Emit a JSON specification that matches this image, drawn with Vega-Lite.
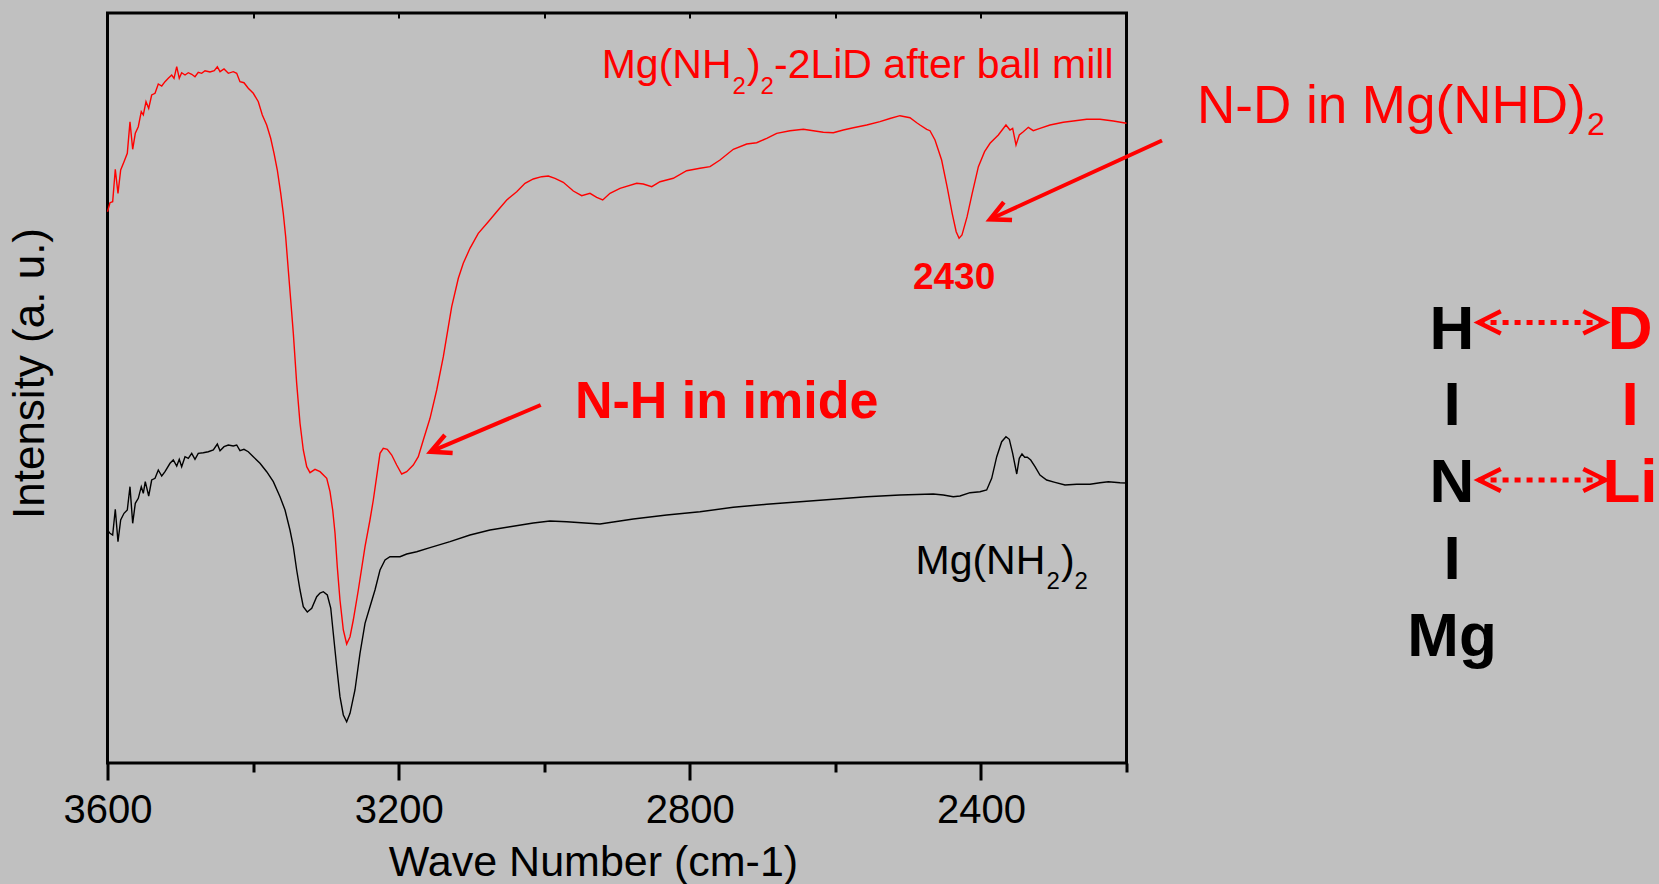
{
  "$schema": "https://vega.github.io/schema/vega-lite/v6.json",
  "width": 1019,
  "height": 750,
  "autosize": {"type": "none"},
  "padding": {"left": 107.5, "top": 13, "right": 532.5, "bottom": 121},
  "background": "#c0c0c0",
  "config": {
    "font": "Liberation Sans",
    "view": {"stroke": "#000000", "strokeWidth": 3},
    "axis": {"grid": false, "domain": false}
  },
  "datasets": {
    "spectra": [
      {"sample":"Mg(NH2)2-2LiD","wavenumber":3600,"intensity":551.3},{"sample":"Mg(NH2)2-2LiD","wavenumber":3596.6,"intensity":560.3},{"sample":"Mg(NH2)2-2LiD","wavenumber":3592.9,"intensity":561.3},{"sample":"Mg(NH2)2-2LiD","wavenumber":3589.3,"intensity":593.7},{"sample":"Mg(NH2)2-2LiD","wavenumber":3585.6,"intensity":569.7},{"sample":"Mg(NH2)2-2LiD","wavenumber":3581.9,"intensity":593},{"sample":"Mg(NH2)2-2LiD","wavenumber":3577.3,"intensity":601.3},{"sample":"Mg(NH2)2-2LiD","wavenumber":3572.8,"intensity":609.7},{"sample":"Mg(NH2)2-2LiD","wavenumber":3569.1,"intensity":641.3},{"sample":"Mg(NH2)2-2LiD","wavenumber":3565.4,"intensity":613.7},{"sample":"Mg(NH2)2-2LiD","wavenumber":3561.8,"intensity":629.7},{"sample":"Mg(NH2)2-2LiD","wavenumber":3557.7,"intensity":636.3},{"sample":"Mg(NH2)2-2LiD","wavenumber":3553.6,"intensity":651.3},{"sample":"Mg(NH2)2-2LiD","wavenumber":3550.8,"intensity":648},{"sample":"Mg(NH2)2-2LiD","wavenumber":3547.1,"intensity":661.3},{"sample":"Mg(NH2)2-2LiD","wavenumber":3543.4,"intensity":654.7},{"sample":"Mg(NH2)2-2LiD","wavenumber":3539.3,"intensity":668},{"sample":"Mg(NH2)2-2LiD","wavenumber":3534.7,"intensity":669.7},{"sample":"Mg(NH2)2-2LiD","wavenumber":3530.2,"intensity":679},{"sample":"Mg(NH2)2-2LiD","wavenumber":3525.5,"intensity":677},{"sample":"Mg(NH2)2-2LiD","wavenumber":3521,"intensity":681.3},{"sample":"Mg(NH2)2-2LiD","wavenumber":3516.5,"intensity":684.7},{"sample":"Mg(NH2)2-2LiD","wavenumber":3511.8,"intensity":688},{"sample":"Mg(NH2)2-2LiD","wavenumber":3508.6,"intensity":684.7},{"sample":"Mg(NH2)2-2LiD","wavenumber":3504.9,"intensity":696.3},{"sample":"Mg(NH2)2-2LiD","wavenumber":3501.4,"intensity":684.7},{"sample":"Mg(NH2)2-2LiD","wavenumber":3498.1,"intensity":690.3},{"sample":"Mg(NH2)2-2LiD","wavenumber":3493.5,"intensity":688},{"sample":"Mg(NH2)2-2LiD","wavenumber":3489,"intensity":690.3},{"sample":"Mg(NH2)2-2LiD","wavenumber":3484.3,"intensity":688.7},{"sample":"Mg(NH2)2-2LiD","wavenumber":3479.8,"intensity":686.3},{"sample":"Mg(NH2)2-2LiD","wavenumber":3475.3,"intensity":690.7},{"sample":"Mg(NH2)2-2LiD","wavenumber":3470.6,"intensity":689.7},{"sample":"Mg(NH2)2-2LiD","wavenumber":3466,"intensity":692.3},{"sample":"Mg(NH2)2-2LiD","wavenumber":3459.2,"intensity":691},{"sample":"Mg(NH2)2-2LiD","wavenumber":3453.3,"intensity":692.3},{"sample":"Mg(NH2)2-2LiD","wavenumber":3449.1,"intensity":696.3},{"sample":"Mg(NH2)2-2LiD","wavenumber":3445.4,"intensity":691.3},{"sample":"Mg(NH2)2-2LiD","wavenumber":3439.9,"intensity":694},{"sample":"Mg(NH2)2-2LiD","wavenumber":3434,"intensity":689.7},{"sample":"Mg(NH2)2-2LiD","wavenumber":3427.2,"intensity":691.3},{"sample":"Mg(NH2)2-2LiD","wavenumber":3422.5,"intensity":689.7},{"sample":"Mg(NH2)2-2LiD","wavenumber":3418,"intensity":681.3},{"sample":"Mg(NH2)2-2LiD","wavenumber":3412.5,"intensity":680.3},{"sample":"Mg(NH2)2-2LiD","wavenumber":3406.6,"intensity":674.7},{"sample":"Mg(NH2)2-2LiD","wavenumber":3399.7,"intensity":669.7},{"sample":"Mg(NH2)2-2LiD","wavenumber":3392.8,"intensity":661.3},{"sample":"Mg(NH2)2-2LiD","wavenumber":3387.3,"intensity":648},{"sample":"Mg(NH2)2-2LiD","wavenumber":3381.3,"intensity":638},{"sample":"Mg(NH2)2-2LiD","wavenumber":3375.8,"intensity":624.7},{"sample":"Mg(NH2)2-2LiD","wavenumber":3371.2,"intensity":609.7},{"sample":"Mg(NH2)2-2LiD","wavenumber":3366.7,"intensity":593},{"sample":"Mg(NH2)2-2LiD","wavenumber":3362,"intensity":569.7},{"sample":"Mg(NH2)2-2LiD","wavenumber":3358.5,"intensity":549.7},{"sample":"Mg(NH2)2-2LiD","wavenumber":3355.2,"intensity":526.3},{"sample":"Mg(NH2)2-2LiD","wavenumber":3351.6,"intensity":493},{"sample":"Mg(NH2)2-2LiD","wavenumber":3348.3,"intensity":463},{"sample":"Mg(NH2)2-2LiD","wavenumber":3344.7,"intensity":429.7},{"sample":"Mg(NH2)2-2LiD","wavenumber":3340.1,"intensity":379.7},{"sample":"Mg(NH2)2-2LiD","wavenumber":3335.5,"intensity":339.7},{"sample":"Mg(NH2)2-2LiD","wavenumber":3331,"intensity":313},{"sample":"Mg(NH2)2-2LiD","wavenumber":3326.3,"intensity":296.3},{"sample":"Mg(NH2)2-2LiD","wavenumber":3321.8,"intensity":290.3},{"sample":"Mg(NH2)2-2LiD","wavenumber":3314.9,"intensity":293.7},{"sample":"Mg(NH2)2-2LiD","wavenumber":3308,"intensity":291.3},{"sample":"Mg(NH2)2-2LiD","wavenumber":3298.8,"intensity":284.7},{"sample":"Mg(NH2)2-2LiD","wavenumber":3294.3,"intensity":271.3},{"sample":"Mg(NH2)2-2LiD","wavenumber":3290.6,"intensity":253},{"sample":"Mg(NH2)2-2LiD","wavenumber":3287.4,"intensity":229.7},{"sample":"Mg(NH2)2-2LiD","wavenumber":3284.3,"intensity":196.3},{"sample":"Mg(NH2)2-2LiD","wavenumber":3280.6,"intensity":163},{"sample":"Mg(NH2)2-2LiD","wavenumber":3276,"intensity":133},{"sample":"Mg(NH2)2-2LiD","wavenumber":3271.4,"intensity":119},{"sample":"Mg(NH2)2-2LiD","wavenumber":3266.8,"intensity":126.3},{"sample":"Mg(NH2)2-2LiD","wavenumber":3262.3,"intensity":143},{"sample":"Mg(NH2)2-2LiD","wavenumber":3255.4,"intensity":173},{"sample":"Mg(NH2)2-2LiD","wavenumber":3246.2,"intensity":216.3},{"sample":"Mg(NH2)2-2LiD","wavenumber":3239.4,"intensity":243},{"sample":"Mg(NH2)2-2LiD","wavenumber":3234.8,"intensity":263},{"sample":"Mg(NH2)2-2LiD","wavenumber":3230.2,"intensity":286.3},{"sample":"Mg(NH2)2-2LiD","wavenumber":3225.6,"intensity":309.7},{"sample":"Mg(NH2)2-2LiD","wavenumber":3221.1,"intensity":314.7},{"sample":"Mg(NH2)2-2LiD","wavenumber":3215.6,"intensity":313.7},{"sample":"Mg(NH2)2-2LiD","wavenumber":3209.5,"intensity":308},{"sample":"Mg(NH2)2-2LiD","wavenumber":3202.7,"intensity":298},{"sample":"Mg(NH2)2-2LiD","wavenumber":3195.8,"intensity":289},{"sample":"Mg(NH2)2-2LiD","wavenumber":3188.9,"intensity":291.3},{"sample":"Mg(NH2)2-2LiD","wavenumber":3179.9,"intensity":298},{"sample":"Mg(NH2)2-2LiD","wavenumber":3173,"intensity":306.3},{"sample":"Mg(NH2)2-2LiD","wavenumber":3166.1,"intensity":323},{"sample":"Mg(NH2)2-2LiD","wavenumber":3156.9,"intensity":344.7},{"sample":"Mg(NH2)2-2LiD","wavenumber":3147.7,"intensity":373},{"sample":"Mg(NH2)2-2LiD","wavenumber":3138.6,"intensity":406.3},{"sample":"Mg(NH2)2-2LiD","wavenumber":3129.4,"intensity":446.3},{"sample":"Mg(NH2)2-2LiD","wavenumber":3127.1,"intensity":456.3},{"sample":"Mg(NH2)2-2LiD","wavenumber":3118,"intensity":484.7},{"sample":"Mg(NH2)2-2LiD","wavenumber":3111.2,"intensity":499.7},{"sample":"Mg(NH2)2-2LiD","wavenumber":3102,"intensity":514.7},{"sample":"Mg(NH2)2-2LiD","wavenumber":3090.6,"intensity":529.7},{"sample":"Mg(NH2)2-2LiD","wavenumber":3076.8,"intensity":541.3},{"sample":"Mg(NH2)2-2LiD","wavenumber":3065.3,"intensity":551.3},{"sample":"Mg(NH2)2-2LiD","wavenumber":3051.5,"intensity":563},{"sample":"Mg(NH2)2-2LiD","wavenumber":3037.8,"intensity":571.3},{"sample":"Mg(NH2)2-2LiD","wavenumber":3026.4,"intensity":579.7},{"sample":"Mg(NH2)2-2LiD","wavenumber":3015,"intensity":584},{"sample":"Mg(NH2)2-2LiD","wavenumber":3003.5,"intensity":586.3},{"sample":"Mg(NH2)2-2LiD","wavenumber":2994.4,"intensity":587},{"sample":"Mg(NH2)2-2LiD","wavenumber":2985.2,"intensity":584.7},{"sample":"Mg(NH2)2-2LiD","wavenumber":2973.8,"intensity":580.7},{"sample":"Mg(NH2)2-2LiD","wavenumber":2960,"intensity":572},{"sample":"Mg(NH2)2-2LiD","wavenumber":2948.5,"intensity":567.3},{"sample":"Mg(NH2)2-2LiD","wavenumber":2937.1,"intensity":569.7},{"sample":"Mg(NH2)2-2LiD","wavenumber":2927.9,"intensity":565.7},{"sample":"Mg(NH2)2-2LiD","wavenumber":2919.6,"intensity":563},{"sample":"Mg(NH2)2-2LiD","wavenumber":2909.6,"intensity":569.7},{"sample":"Mg(NH2)2-2LiD","wavenumber":2895.9,"intensity":574.7},{"sample":"Mg(NH2)2-2LiD","wavenumber":2872.9,"intensity":579.7},{"sample":"Mg(NH2)2-2LiD","wavenumber":2863.9,"intensity":579},{"sample":"Mg(NH2)2-2LiD","wavenumber":2852.3,"intensity":576.3},{"sample":"Mg(NH2)2-2LiD","wavenumber":2840.9,"intensity":581.3},{"sample":"Mg(NH2)2-2LiD","wavenumber":2822.7,"intensity":584.7},{"sample":"Mg(NH2)2-2LiD","wavenumber":2804.3,"intensity":592.3},{"sample":"Mg(NH2)2-2LiD","wavenumber":2786,"intensity":594.7},{"sample":"Mg(NH2)2-2LiD","wavenumber":2772.2,"intensity":596.3},{"sample":"Mg(NH2)2-2LiD","wavenumber":2758.5,"intensity":603},{"sample":"Mg(NH2)2-2LiD","wavenumber":2740.2,"intensity":613.7},{"sample":"Mg(NH2)2-2LiD","wavenumber":2721.8,"intensity":619},{"sample":"Mg(NH2)2-2LiD","wavenumber":2708.1,"intensity":620.3},{"sample":"Mg(NH2)2-2LiD","wavenumber":2694.3,"intensity":624.7},{"sample":"Mg(NH2)2-2LiD","wavenumber":2680.6,"intensity":629.7},{"sample":"Mg(NH2)2-2LiD","wavenumber":2662.3,"intensity":632.3},{"sample":"Mg(NH2)2-2LiD","wavenumber":2644,"intensity":633.7},{"sample":"Mg(NH2)2-2LiD","wavenumber":2630.3,"intensity":632.3},{"sample":"Mg(NH2)2-2LiD","wavenumber":2616.6,"intensity":630.7},{"sample":"Mg(NH2)2-2LiD","wavenumber":2602.8,"intensity":630.3},{"sample":"Mg(NH2)2-2LiD","wavenumber":2589.1,"intensity":633},{"sample":"Mg(NH2)2-2LiD","wavenumber":2575.3,"intensity":635.3},{"sample":"Mg(NH2)2-2LiD","wavenumber":2556.9,"intensity":638},{"sample":"Mg(NH2)2-2LiD","wavenumber":2538.7,"intensity":641.3},{"sample":"Mg(NH2)2-2LiD","wavenumber":2525,"intensity":644.5},{"sample":"Mg(NH2)2-2LiD","wavenumber":2511.2,"intensity":647.3},{"sample":"Mg(NH2)2-2LiD","wavenumber":2497.5,"intensity":645.3},{"sample":"Mg(NH2)2-2LiD","wavenumber":2488.2,"intensity":640.3},{"sample":"Mg(NH2)2-2LiD","wavenumber":2483.7,"intensity":638},{"sample":"Mg(NH2)2-2LiD","wavenumber":2474.5,"intensity":633.7},{"sample":"Mg(NH2)2-2LiD","wavenumber":2470,"intensity":632.3},{"sample":"Mg(NH2)2-2LiD","wavenumber":2463.1,"intensity":623},{"sample":"Mg(NH2)2-2LiD","wavenumber":2454,"intensity":603},{"sample":"Mg(NH2)2-2LiD","wavenumber":2446.5,"intensity":576.3},{"sample":"Mg(NH2)2-2LiD","wavenumber":2439.5,"intensity":549.7},{"sample":"Mg(NH2)2-2LiD","wavenumber":2434,"intensity":531.3},{"sample":"Mg(NH2)2-2LiD","wavenumber":2430,"intensity":524.7},{"sample":"Mg(NH2)2-2LiD","wavenumber":2426,"intensity":528},{"sample":"Mg(NH2)2-2LiD","wavenumber":2419,"intensity":546.3},{"sample":"Mg(NH2)2-2LiD","wavenumber":2412,"intensity":569.7},{"sample":"Mg(NH2)2-2LiD","wavenumber":2403.5,"intensity":596.3},{"sample":"Mg(NH2)2-2LiD","wavenumber":2395,"intensity":611.3},{"sample":"Mg(NH2)2-2LiD","wavenumber":2387.5,"intensity":619.7},{"sample":"Mg(NH2)2-2LiD","wavenumber":2376.1,"intensity":628},{"sample":"Mg(NH2)2-2LiD","wavenumber":2365.6,"intensity":638},{"sample":"Mg(NH2)2-2LiD","wavenumber":2360.1,"intensity":633},{"sample":"Mg(NH2)2-2LiD","wavenumber":2356.4,"intensity":634.7},{"sample":"Mg(NH2)2-2LiD","wavenumber":2351.8,"intensity":618},{"sample":"Mg(NH2)2-2LiD","wavenumber":2347.3,"intensity":628},{"sample":"Mg(NH2)2-2LiD","wavenumber":2341.8,"intensity":631.3},{"sample":"Mg(NH2)2-2LiD","wavenumber":2334.9,"intensity":635.7},{"sample":"Mg(NH2)2-2LiD","wavenumber":2328.1,"intensity":632.3},{"sample":"Mg(NH2)2-2LiD","wavenumber":2318.9,"intensity":634.7},{"sample":"Mg(NH2)2-2LiD","wavenumber":2305.1,"intensity":638},{"sample":"Mg(NH2)2-2LiD","wavenumber":2286.8,"intensity":640.7},{"sample":"Mg(NH2)2-2LiD","wavenumber":2273.1,"intensity":642},{"sample":"Mg(NH2)2-2LiD","wavenumber":2254.7,"intensity":643.7},{"sample":"Mg(NH2)2-2LiD","wavenumber":2236.4,"intensity":643.7},{"sample":"Mg(NH2)2-2LiD","wavenumber":2218.1,"intensity":642},{"sample":"Mg(NH2)2-2LiD","wavenumber":2200,"intensity":639.7},
      {"sample":"Mg(NH2)2","wavenumber":3600,"intensity":233},{"sample":"Mg(NH2)2","wavenumber":3596.6,"intensity":229.7},{"sample":"Mg(NH2)2","wavenumber":3592.9,"intensity":228},{"sample":"Mg(NH2)2","wavenumber":3589.3,"intensity":253.7},{"sample":"Mg(NH2)2","wavenumber":3585.6,"intensity":221.3},{"sample":"Mg(NH2)2","wavenumber":3581.9,"intensity":243},{"sample":"Mg(NH2)2","wavenumber":3577.3,"intensity":249.7},{"sample":"Mg(NH2)2","wavenumber":3572.8,"intensity":253},{"sample":"Mg(NH2)2","wavenumber":3569.1,"intensity":276.3},{"sample":"Mg(NH2)2","wavenumber":3565.4,"intensity":239.7},{"sample":"Mg(NH2)2","wavenumber":3561.8,"intensity":259.7},{"sample":"Mg(NH2)2","wavenumber":3557.7,"intensity":264.7},{"sample":"Mg(NH2)2","wavenumber":3553.6,"intensity":276.3},{"sample":"Mg(NH2)2","wavenumber":3550.8,"intensity":269.7},{"sample":"Mg(NH2)2","wavenumber":3548.1,"intensity":281.3},{"sample":"Mg(NH2)2","wavenumber":3543.4,"intensity":267},{"sample":"Mg(NH2)2","wavenumber":3539.3,"intensity":283},{"sample":"Mg(NH2)2","wavenumber":3534.7,"intensity":284.7},{"sample":"Mg(NH2)2","wavenumber":3530.2,"intensity":293},{"sample":"Mg(NH2)2","wavenumber":3525.5,"intensity":287},{"sample":"Mg(NH2)2","wavenumber":3521,"intensity":291.3},{"sample":"Mg(NH2)2","wavenumber":3514.1,"intensity":299.7},{"sample":"Mg(NH2)2","wavenumber":3509.6,"intensity":303},{"sample":"Mg(NH2)2","wavenumber":3504.9,"intensity":297},{"sample":"Mg(NH2)2","wavenumber":3501.4,"intensity":303.7},{"sample":"Mg(NH2)2","wavenumber":3498.1,"intensity":296.3},{"sample":"Mg(NH2)2","wavenumber":3493.5,"intensity":306.3},{"sample":"Mg(NH2)2","wavenumber":3489,"intensity":304.7},{"sample":"Mg(NH2)2","wavenumber":3484.3,"intensity":309.7},{"sample":"Mg(NH2)2","wavenumber":3479.8,"intensity":303.7},{"sample":"Mg(NH2)2","wavenumber":3475.3,"intensity":309.7},{"sample":"Mg(NH2)2","wavenumber":3468.4,"intensity":310.3},{"sample":"Mg(NH2)2","wavenumber":3461.5,"intensity":311.3},{"sample":"Mg(NH2)2","wavenumber":3454.6,"intensity":313},{"sample":"Mg(NH2)2","wavenumber":3449.1,"intensity":319},{"sample":"Mg(NH2)2","wavenumber":3445.4,"intensity":312.3},{"sample":"Mg(NH2)2","wavenumber":3439.9,"intensity":316.3},{"sample":"Mg(NH2)2","wavenumber":3434,"intensity":318},{"sample":"Mg(NH2)2","wavenumber":3427.2,"intensity":317},{"sample":"Mg(NH2)2","wavenumber":3422.5,"intensity":318},{"sample":"Mg(NH2)2","wavenumber":3418,"intensity":312.3},{"sample":"Mg(NH2)2","wavenumber":3412.5,"intensity":313.7},{"sample":"Mg(NH2)2","wavenumber":3406.6,"intensity":311.3},{"sample":"Mg(NH2)2","wavenumber":3399.7,"intensity":306.3},{"sample":"Mg(NH2)2","wavenumber":3390.5,"intensity":299.7},{"sample":"Mg(NH2)2","wavenumber":3381.3,"intensity":291.3},{"sample":"Mg(NH2)2","wavenumber":3372.2,"intensity":281.3},{"sample":"Mg(NH2)2","wavenumber":3363,"intensity":266.3},{"sample":"Mg(NH2)2","wavenumber":3356.1,"intensity":253},{"sample":"Mg(NH2)2","wavenumber":3349.3,"intensity":233},{"sample":"Mg(NH2)2","wavenumber":3344.7,"intensity":216.3},{"sample":"Mg(NH2)2","wavenumber":3340.1,"intensity":193},{"sample":"Mg(NH2)2","wavenumber":3335.5,"intensity":173},{"sample":"Mg(NH2)2","wavenumber":3331,"intensity":156.3},{"sample":"Mg(NH2)2","wavenumber":3325.5,"intensity":151},{"sample":"Mg(NH2)2","wavenumber":3319.4,"intensity":154.7},{"sample":"Mg(NH2)2","wavenumber":3312.6,"intensity":166.3},{"sample":"Mg(NH2)2","wavenumber":3308,"intensity":170},{"sample":"Mg(NH2)2","wavenumber":3303.5,"intensity":171.3},{"sample":"Mg(NH2)2","wavenumber":3298,"intensity":168},{"sample":"Mg(NH2)2","wavenumber":3293.3,"intensity":155},{"sample":"Mg(NH2)2","wavenumber":3289.8,"intensity":129.7},{"sample":"Mg(NH2)2","wavenumber":3285.1,"intensity":96.3},{"sample":"Mg(NH2)2","wavenumber":3280.6,"intensity":66.3},{"sample":"Mg(NH2)2","wavenumber":3276,"intensity":48},{"sample":"Mg(NH2)2","wavenumber":3271.4,"intensity":41.3},{"sample":"Mg(NH2)2","wavenumber":3266.8,"intensity":49.7},{"sample":"Mg(NH2)2","wavenumber":3260,"intensity":73},{"sample":"Mg(NH2)2","wavenumber":3253.1,"intensity":109.7},{"sample":"Mg(NH2)2","wavenumber":3246.2,"intensity":139.7},{"sample":"Mg(NH2)2","wavenumber":3239.4,"intensity":156.3},{"sample":"Mg(NH2)2","wavenumber":3232.5,"intensity":173},{"sample":"Mg(NH2)2","wavenumber":3225.6,"intensity":193},{"sample":"Mg(NH2)2","wavenumber":3218.7,"intensity":203},{"sample":"Mg(NH2)2","wavenumber":3211.9,"intensity":206.3},{"sample":"Mg(NH2)2","wavenumber":3198.1,"intensity":206.3},{"sample":"Mg(NH2)2","wavenumber":3188.9,"intensity":209},{"sample":"Mg(NH2)2","wavenumber":3175.2,"intensity":211.3},{"sample":"Mg(NH2)2","wavenumber":3156.9,"intensity":215.3},{"sample":"Mg(NH2)2","wavenumber":3129.4,"intensity":221.3},{"sample":"Mg(NH2)2","wavenumber":3102,"intensity":228},{"sample":"Mg(NH2)2","wavenumber":3074.5,"intensity":233},{"sample":"Mg(NH2)2","wavenumber":3047,"intensity":236.3},{"sample":"Mg(NH2)2","wavenumber":3015,"intensity":240},{"sample":"Mg(NH2)2","wavenumber":2992.1,"intensity":242},{"sample":"Mg(NH2)2","wavenumber":2969.1,"intensity":241.3},{"sample":"Mg(NH2)2","wavenumber":2944,"intensity":240},{"sample":"Mg(NH2)2","wavenumber":2923.4,"intensity":239},{"sample":"Mg(NH2)2","wavenumber":2877.6,"intensity":244},{"sample":"Mg(NH2)2","wavenumber":2831.7,"intensity":248},{"sample":"Mg(NH2)2","wavenumber":2786,"intensity":251.3},{"sample":"Mg(NH2)2","wavenumber":2740.2,"intensity":255.7},{"sample":"Mg(NH2)2","wavenumber":2694.3,"intensity":258.7},{"sample":"Mg(NH2)2","wavenumber":2648.6,"intensity":261.3},{"sample":"Mg(NH2)2","wavenumber":2602.8,"intensity":263.7},{"sample":"Mg(NH2)2","wavenumber":2556.9,"intensity":266.3},{"sample":"Mg(NH2)2","wavenumber":2511.2,"intensity":268},{"sample":"Mg(NH2)2","wavenumber":2465.5,"intensity":269},{"sample":"Mg(NH2)2","wavenumber":2451.7,"intensity":268},{"sample":"Mg(NH2)2","wavenumber":2438,"intensity":266.3},{"sample":"Mg(NH2)2","wavenumber":2428.8,"intensity":267},{"sample":"Mg(NH2)2","wavenumber":2415,"intensity":270.3},{"sample":"Mg(NH2)2","wavenumber":2401.3,"intensity":271.3},{"sample":"Mg(NH2)2","wavenumber":2392.1,"intensity":273},{"sample":"Mg(NH2)2","wavenumber":2385.2,"intensity":284.7},{"sample":"Mg(NH2)2","wavenumber":2378.3,"intensity":306.3},{"sample":"Mg(NH2)2","wavenumber":2371.5,"intensity":321.3},{"sample":"Mg(NH2)2","wavenumber":2365.6,"intensity":326.3},{"sample":"Mg(NH2)2","wavenumber":2361,"intensity":323.7},{"sample":"Mg(NH2)2","wavenumber":2356.4,"intensity":309.7},{"sample":"Mg(NH2)2","wavenumber":2350.8,"intensity":289},{"sample":"Mg(NH2)2","wavenumber":2347.3,"intensity":304.7},{"sample":"Mg(NH2)2","wavenumber":2343.6,"intensity":309},{"sample":"Mg(NH2)2","wavenumber":2339.8,"intensity":305.7},{"sample":"Mg(NH2)2","wavenumber":2336.3,"intensity":305.7},{"sample":"Mg(NH2)2","wavenumber":2331.6,"intensity":303},{"sample":"Mg(NH2)2","wavenumber":2325.7,"intensity":296.3},{"sample":"Mg(NH2)2","wavenumber":2318.9,"intensity":288},{"sample":"Mg(NH2)2","wavenumber":2309.7,"intensity":283},{"sample":"Mg(NH2)2","wavenumber":2298.3,"intensity":280.7},{"sample":"Mg(NH2)2","wavenumber":2284.5,"intensity":278},{"sample":"Mg(NH2)2","wavenumber":2268.4,"intensity":278.7},{"sample":"Mg(NH2)2","wavenumber":2250.1,"intensity":278.7},{"sample":"Mg(NH2)2","wavenumber":2236.4,"intensity":280.3},{"sample":"Mg(NH2)2","wavenumber":2225,"intensity":281.3},{"sample":"Mg(NH2)2","wavenumber":2208.9,"intensity":280.3},{"sample":"Mg(NH2)2","wavenumber":2200,"intensity":280}
    ],
    "arrows": [
      {"kind":"pointer","name":"imide","wavenumber":3004.8,"intensity":358,"wavenumber2":3156,"intensity2":311.3},
      {"kind":"pointer","name":"deuteride","wavenumber":2151.2,"intensity":622.5,"wavenumber2":2387.5,"intensity2":543.7},
      {"kind":"exchange","name":"H-D","wavenumber":1716.3,"intensity":440.6,"wavenumber2":1541.9,"intensity2":440.6},
      {"kind":"exchange","name":"N-Li","wavenumber":1716.3,"intensity":283,"wavenumber2":1541.9,"intensity2":283}
    ],
    "labels": [
      {"kind":"legend","sample":"Mg(NH2)2-2LiD","text":"Mg(NH","wavenumber":2921,"intensity":684.7},
      {"kind":"legend-sub","sample":"Mg(NH2)2-2LiD","text":"2","wavenumber":2741.3,"intensity":668.7},
      {"kind":"legend","sample":"Mg(NH2)2-2LiD","text":")","wavenumber":2721.4,"intensity":684.7},
      {"kind":"legend-sub","sample":"Mg(NH2)2-2LiD","text":"2","wavenumber":2702.9,"intensity":668.7},
      {"kind":"legend","sample":"Mg(NH2)2-2LiD","text":"-2LiD after ball mill","wavenumber":2684.3,"intensity":684.7},
      {"kind":"legend","sample":"Mg(NH2)2","text":"Mg(NH","wavenumber":2489.9,"intensity":189},
      {"kind":"legend-sub","sample":"Mg(NH2)2","text":"2","wavenumber":2309.9,"intensity":174},
      {"kind":"legend","sample":"Mg(NH2)2","text":")","wavenumber":2290,"intensity":189},
      {"kind":"legend-sub","sample":"Mg(NH2)2","text":"2","wavenumber":2271.5,"intensity":174},
      {"kind":"assignment","sample":"Mg(NH2)2-2LiD","text":"N-D in Mg(NHD)","wavenumber":2103.2,"intensity":640.4},
      {"kind":"assignment-sub","sample":"Mg(NH2)2-2LiD","text":"2","wavenumber":1567.3,"intensity":628},
      {"kind":"highlight","sample":"Mg(NH2)2-2LiD","text":"N-H in imide","wavenumber":2957.7,"intensity":344.7},
      {"kind":"peak","sample":"Mg(NH2)2-2LiD","text":"2430","wavenumber":2430,"intensity":473.7},
      {"kind":"structure","sample":"Mg(NH2)2","text":"H","wavenumber":1752.8,"intensity":414.5},
      {"kind":"structure","sample":"Mg(NH2)2","text":"I","wavenumber":1752.8,"intensity":337.8},
      {"kind":"structure","sample":"Mg(NH2)2","text":"N","wavenumber":1752.8,"intensity":261},
      {"kind":"structure","sample":"Mg(NH2)2","text":"I","wavenumber":1752.8,"intensity":184.4},
      {"kind":"structure","sample":"Mg(NH2)2","text":"Mg","wavenumber":1752.8,"intensity":107},
      {"kind":"structure","sample":"Mg(NH2)2-2LiD","text":"D","wavenumber":1508.2,"intensity":414.5},
      {"kind":"structure","sample":"Mg(NH2)2-2LiD","text":"I","wavenumber":1508.2,"intensity":337.8},
      {"kind":"structure","sample":"Mg(NH2)2-2LiD","text":"Li","wavenumber":1508.2,"intensity":261}
    ]
  },
  "encoding": {
    "x": {"field": "wavenumber", "type": "quantitative", "scale": {"domain": [2200, 3600], "reverse": true, "nice": false, "zero": false}, "axis": null},
    "y": {"field": "intensity", "type": "quantitative", "scale": {"domain": [0, 750], "nice": false, "zero": false}, "axis": null}
  },
  "layer": [
    {
      "data": {"name": "spectra"},
      "mark": {"type": "line", "strokeWidth": 1.4},
      "encoding": {
        "x": {
          "field": "wavenumber", "type": "quantitative",
          "scale": {"domain": [2200, 3600], "reverse": true, "nice": false, "zero": false},
          "axis": {
            "orient": "bottom",
            "values": [3600, 3400, 3200, 3000, 2800, 2600, 2400, 2200],
            "labelExpr": "datum.value % 400 === 0 ? format(datum.value, 'd') : ''",
            "labelFontSize": 40, "labelColor": "#000000", "labelBaseline": "alphabetic", "labelPadding": 42,
            "labelFlush": false, "labelOverlap": false, "labelBound": false,
            "tickSize": {"condition": {"test": "datum.value % 400 === 0", "value": 17}, "value": 9},
            "tickWidth": 3, "tickColor": "#000000",
            "domain": false, "grid": false,
            "title": "Wave Number (cm-1)", "titleFontSize": 43, "titleFontWeight": "normal", "titleColor": "#000000",
            "titleX": 485.5, "titleY": 112, "titleAlign": "center", "titleBaseline": "alphabetic"
          }
        },
        "y": {
          "field": "intensity", "type": "quantitative",
          "scale": {"domain": [0, 750], "nice": false, "zero": false},
          "axis": {
            "orient": "left",
            "ticks": false, "labels": false, "domain": false, "grid": false,
            "title": "Intensity (a. u.)", "titleFontSize": 44, "titleFontWeight": "normal", "titleColor": "#000000",
            "titleAngle": 270, "titleX": -64, "titleY": 360, "titleAlign": "center", "titleBaseline": "alphabetic"
          }
        },
        "color": {"field": "sample", "type": "nominal", "scale": {"domain": ["Mg(NH2)2-2LiD", "Mg(NH2)2"], "range": ["#ff0000", "#000000"]}, "legend": null}
      }
    },
    {
      "data": {"name": "arrows"},
      "transform": [{"filter": "datum.kind === 'pointer'"}],
      "mark": {"type": "rule", "color": "#ff0000", "strokeWidth": 4},
      "encoding": {
        "x": {
          "field": "wavenumber", "type": "quantitative",
          "scale": {"domain": [2200, 3600], "reverse": true, "nice": false, "zero": false},
          "axis": {
            "orient": "top", "values": [3600, 3400, 3200, 3000, 2800, 2600, 2400, 2200],
            "labels": false, "title": null, "domain": false, "grid": false,
            "tickSize": -5, "tickWidth": 2, "tickColor": "#000000"
          }
        },
        "x2": {"field": "wavenumber2"},
        "y2": {"field": "intensity2"}
      }
    },
    {
      "data": {"name": "arrows"},
      "transform": [{"filter": "datum.kind === 'exchange'"}],
      "mark": {"type": "rule", "color": "#ff0000", "strokeWidth": 5, "strokeDash": [6, 6]},
      "encoding": {
        "x2": {"field": "wavenumber2"},
        "y2": {"field": "intensity2"}
      }
    },
    {
      "data": {"name": "arrows"},
      "transform": [{"filter": "datum.name === 'imide'"}],
      "mark": {"type": "point", "shape": "M-1,-0.5L0,0L-1,0.5", "filled": false, "color": "#ff0000", "strokeWidth": 4.5, "size": 1550, "angle": 157, "opacity": 1, "strokeJoin": "miter"},
      "encoding": {
        "x": {"field": "wavenumber2", "type": "quantitative", "scale": {"domain": [2200, 3600], "reverse": true, "nice": false, "zero": false}, "axis": null},
        "y": {"field": "intensity2", "type": "quantitative", "scale": {"domain": [0, 750], "nice": false, "zero": false}, "axis": null}
      }
    },
    {
      "data": {"name": "arrows"},
      "transform": [{"filter": "datum.name === 'deuteride'"}],
      "mark": {"type": "point", "shape": "M-1,-0.5L0,0L-1,0.5", "filled": false, "color": "#ff0000", "strokeWidth": 4.5, "size": 1550, "angle": 155.4, "opacity": 1, "strokeJoin": "miter"},
      "encoding": {
        "x": {"field": "wavenumber2", "type": "quantitative", "scale": {"domain": [2200, 3600], "reverse": true, "nice": false, "zero": false}, "axis": null},
        "y": {"field": "intensity2", "type": "quantitative", "scale": {"domain": [0, 750], "nice": false, "zero": false}, "axis": null}
      }
    },
    {
      "data": {"name": "arrows"},
      "transform": [{"filter": "datum.kind === 'exchange'"}],
      "mark": {"type": "point", "shape": "M-1,-0.5L0,0L-1,0.5", "filled": false, "color": "#ff0000", "strokeWidth": 4.5, "size": 1970, "angle": 0, "opacity": 1, "strokeJoin": "miter"},
      "encoding": {
        "x": {"field": "wavenumber2", "type": "quantitative", "scale": {"domain": [2200, 3600], "reverse": true, "nice": false, "zero": false}, "axis": null}
      }
    },
    {
      "data": {"name": "arrows"},
      "transform": [{"filter": "datum.kind === 'exchange'"}],
      "mark": {"type": "point", "shape": "M-1,-0.5L0,0L-1,0.5", "filled": false, "color": "#ff0000", "strokeWidth": 4.5, "size": 1970, "angle": 180, "opacity": 1, "strokeJoin": "miter"},
      "encoding": {}
    },
    {
      "data": {"name": "labels"},
      "transform": [{"filter": "datum.kind === 'legend'"}],
      "mark": {"type": "text", "fontSize": 41, "align": "left", "baseline": "alphabetic"},
      "encoding": {
        "text": {"field": "text"},
        "color": {"field": "sample", "type": "nominal", "scale": {"domain": ["Mg(NH2)2-2LiD", "Mg(NH2)2"], "range": ["#ff0000", "#000000"]}, "legend": null}
      }
    },
    {
      "data": {"name": "labels"},
      "transform": [{"filter": "datum.kind === 'legend-sub'"}],
      "mark": {"type": "text", "fontSize": 24, "align": "left", "baseline": "alphabetic"},
      "encoding": {
        "text": {"field": "text"},
        "color": {"field": "sample", "type": "nominal", "scale": {"domain": ["Mg(NH2)2-2LiD", "Mg(NH2)2"], "range": ["#ff0000", "#000000"]}, "legend": null}
      }
    },
    {
      "data": {"name": "labels"},
      "transform": [{"filter": "datum.kind === 'assignment'"}],
      "mark": {"type": "text", "fontSize": 53, "align": "left", "baseline": "alphabetic"},
      "encoding": {
        "text": {"field": "text"},
        "color": {"field": "sample", "type": "nominal", "scale": {"domain": ["Mg(NH2)2-2LiD", "Mg(NH2)2"], "range": ["#ff0000", "#000000"]}, "legend": null}
      }
    },
    {
      "data": {"name": "labels"},
      "transform": [{"filter": "datum.kind === 'assignment-sub'"}],
      "mark": {"type": "text", "fontSize": 32, "align": "left", "baseline": "alphabetic"},
      "encoding": {
        "text": {"field": "text"},
        "color": {"field": "sample", "type": "nominal", "scale": {"domain": ["Mg(NH2)2-2LiD", "Mg(NH2)2"], "range": ["#ff0000", "#000000"]}, "legend": null}
      }
    },
    {
      "data": {"name": "labels"},
      "transform": [{"filter": "datum.kind === 'highlight'"}],
      "mark": {"type": "text", "fontSize": 52, "fontWeight": "bold", "align": "left", "baseline": "alphabetic"},
      "encoding": {
        "text": {"field": "text"},
        "color": {"field": "sample", "type": "nominal", "scale": {"domain": ["Mg(NH2)2-2LiD", "Mg(NH2)2"], "range": ["#ff0000", "#000000"]}, "legend": null}
      }
    },
    {
      "data": {"name": "labels"},
      "transform": [{"filter": "datum.kind === 'peak'"}],
      "mark": {"type": "text", "fontSize": 37, "fontWeight": "bold", "align": "center", "baseline": "alphabetic", "dx": -5},
      "encoding": {
        "text": {"field": "text"},
        "color": {"field": "sample", "type": "nominal", "scale": {"domain": ["Mg(NH2)2-2LiD", "Mg(NH2)2"], "range": ["#ff0000", "#000000"]}, "legend": null}
      }
    },
    {
      "data": {"name": "labels"},
      "transform": [{"filter": "datum.kind === 'structure'"}],
      "mark": {"type": "text", "fontSize": 62, "fontWeight": "bold", "align": "center", "baseline": "alphabetic"},
      "encoding": {
        "text": {"field": "text"},
        "color": {"field": "sample", "type": "nominal", "scale": {"domain": ["Mg(NH2)2-2LiD", "Mg(NH2)2"], "range": ["#ff0000", "#000000"]}, "legend": null}
      }
    }
  ],
  "resolve": {"axis": {"x": "independent", "y": "independent"}}
}
